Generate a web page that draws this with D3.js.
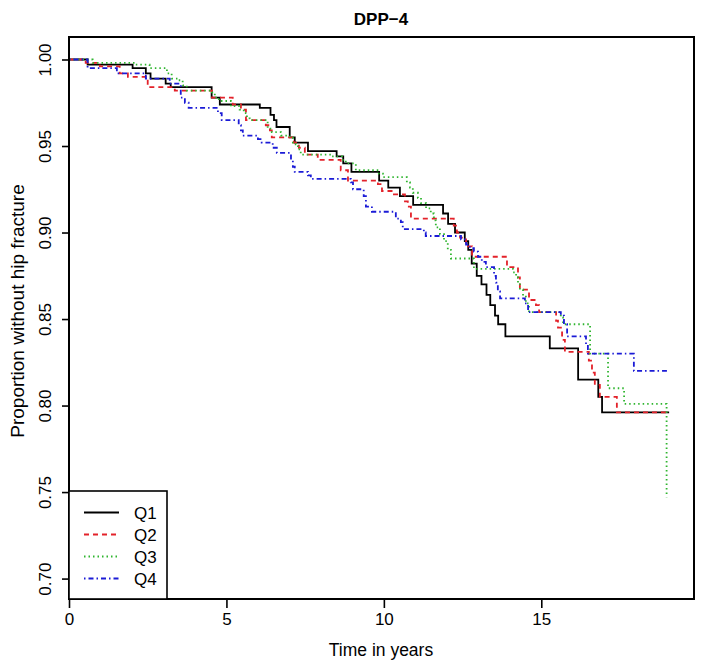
<!DOCTYPE html>
<html>
<head>
<meta charset="utf-8">
<script src="https://cdn.jsdelivr.net/npm/d3@7"></script>
<style>
  html, body { margin: 0; padding: 0; background: #ffffff; }
  svg { display: block; font-family: "Liberation Sans", Arial, Helvetica, sans-serif; }
</style>
</head>
<body>
<svg id="chart" width="704" height="669"></svg>
<script>
// ---- data (time in years, proportion without hip fracture) ----
const seriesNames = ["Q1", "Q2", "Q3", "Q4"];

const q1Time = [0, 0.59, 2.02, 2.44, 2.59, 3.07, 3.23, 4.53, 4.79, 6.06, 6.40, 6.51, 6.59, 7.01, 7.17, 7.59, 8.50, 8.71, 8.97, 9.85, 10.14, 10.51, 10.93, 11.88, 12.04, 12.26, 12.57, 12.68, 12.79, 12.95, 13.10, 13.26, 13.38, 13.53, 13.63, 13.86, 15.27, 16.17, 16.81, 16.93, 19.06];
const q1Surv = [1.000, 0.997, 0.995, 0.992, 0.989, 0.986, 0.984, 0.978, 0.974, 0.972, 0.968, 0.965, 0.961, 0.955, 0.952, 0.947, 0.944, 0.940, 0.935, 0.930, 0.926, 0.921, 0.916, 0.911, 0.905, 0.900, 0.895, 0.890, 0.882, 0.875, 0.870, 0.864, 0.858, 0.852, 0.847, 0.840, 0.833, 0.815, 0.805, 0.796, 0.796];

const q2Time = [0, 0.53, 0.98, 1.61, 1.87, 2.50, 3.36, 4.54, 5.20, 5.46, 5.62, 6.25, 6.38, 6.44, 7.14, 7.30, 7.49, 7.90, 8.63, 8.86, 9.81, 9.94, 10.29, 10.67, 10.76, 10.86, 12.22, 12.32, 12.42, 12.61, 12.80, 13.91, 14.26, 14.32, 14.61, 14.83, 14.93, 15.47, 15.53, 15.66, 15.75, 16.51, 16.61, 16.70, 16.86, 17.40, 19.06];
const q2Surv = [1.000, 0.998, 0.996, 0.992, 0.990, 0.984, 0.982, 0.978, 0.974, 0.971, 0.965, 0.962, 0.959, 0.955, 0.952, 0.949, 0.945, 0.942, 0.936, 0.930, 0.928, 0.924, 0.922, 0.918, 0.915, 0.908, 0.904, 0.900, 0.897, 0.892, 0.886, 0.880, 0.874, 0.867, 0.861, 0.858, 0.854, 0.849, 0.845, 0.838, 0.831, 0.826, 0.819, 0.812, 0.805, 0.796, 0.796];

const q3Time = [0, 0.75, 2.09, 2.56, 3.11, 3.26, 3.45, 3.61, 3.74, 4.54, 4.63, 4.76, 5.14, 5.42, 5.55, 5.65, 5.74, 6.31, 6.44, 6.73, 7.01, 7.11, 7.20, 7.27, 7.36, 8.32, 8.67, 8.79, 9.11, 9.84, 9.97, 10.73, 10.83, 10.92, 11.08, 11.18, 11.34, 11.49, 11.59, 11.65, 11.78, 11.91, 12.03, 12.13, 12.86, 14.10, 14.20, 14.26, 14.32, 14.42, 14.51, 14.61, 15.62, 15.69, 16.55, 17.12, 17.63, 18.98];
const q3Surv = [1.000, 0.998, 0.997, 0.995, 0.992, 0.989, 0.988, 0.985, 0.982, 0.981, 0.978, 0.976, 0.973, 0.971, 0.969, 0.966, 0.965, 0.960, 0.958, 0.956, 0.955, 0.952, 0.951, 0.948, 0.945, 0.944, 0.942, 0.940, 0.936, 0.934, 0.932, 0.929, 0.926, 0.923, 0.920, 0.917, 0.914, 0.911, 0.907, 0.903, 0.899, 0.895, 0.890, 0.885, 0.879, 0.877, 0.874, 0.871, 0.867, 0.863, 0.859, 0.854, 0.851, 0.847, 0.830, 0.810, 0.801, 0.747];

const q4Time = [0, 0.59, 1.52, 2.44, 3.20, 3.55, 3.68, 3.80, 4.73, 4.85, 5.39, 5.46, 5.52, 6.00, 6.12, 6.47, 6.60, 7.05, 7.11, 7.17, 7.59, 7.68, 8.95, 9.02, 9.36, 9.43, 9.62, 10.38, 10.54, 10.60, 11.27, 11.33, 12.45, 12.61, 12.73, 12.86, 12.99, 13.11, 13.24, 13.50, 13.56, 13.62, 13.69, 14.48, 14.58, 15.62, 15.72, 15.82, 16.42, 16.48, 17.94, 18.99];
const q4Surv = [1.000, 0.995, 0.992, 0.989, 0.986, 0.978, 0.975, 0.972, 0.969, 0.965, 0.962, 0.959, 0.956, 0.954, 0.952, 0.949, 0.946, 0.942, 0.938, 0.935, 0.933, 0.931, 0.929, 0.925, 0.921, 0.915, 0.912, 0.908, 0.906, 0.902, 0.900, 0.898, 0.896, 0.893, 0.891, 0.889, 0.886, 0.883, 0.880, 0.875, 0.871, 0.866, 0.862, 0.859, 0.854, 0.852, 0.847, 0.840, 0.835, 0.830, 0.820, 0.820];

const xTicks = [0, 5, 10, 15];
const yTicks = [0.70, 0.75, 0.80, 0.85, 0.90, 0.95, 1.00];

const titleText = "DPP\u22124";
const xLabel = "Time in years";
const yLabel = "Proportion without hip fracture";

// ---- styles ----
const seriesColors = ["#000000", "#e3222a", "#2fb52f", "#1b1bd6"];
const seriesDash = [null, "5,4", "1.5,3", "1.5,3,5,3"];
const seriesWidth = [1.8, 1.8, 1.8, 1.8];

// ---- layout ----
const pLeft = 69, pRight = 694, pTop = 37, pBottom = 599;
const svg = d3.select("#chart");
svg.append("rect").attr("width", 704).attr("height", 669).attr("fill", "#fff");

const x = d3.scaleLinear().domain([0, 19.85]).range([pLeft, pRight]);
const y = d3.scaleLinear().domain([0.6882, 1.013]).range([pBottom, pTop]);

const series = [
  { name: seriesNames[0], t: q1Time, s: q1Surv },
  { name: seriesNames[1], t: q2Time, s: q2Surv },
  { name: seriesNames[2], t: q3Time, s: q3Surv },
  { name: seriesNames[3], t: q4Time, s: q4Surv }
];

const line = d3.line()
  .x(d => x(d[0]))
  .y(d => y(d[1]))
  .curve(d3.curveStepAfter);

const plotG = svg.append("g");
series.forEach((d, i) => {
  const pts = d.t.map((t, k) => [t, d.s[k]]);
  plotG.append("path")
    .attr("d", line(pts))
    .attr("fill", "none")
    .attr("stroke", seriesColors[i])
    .attr("stroke-width", seriesWidth[i])
    .attr("stroke-dasharray", seriesDash[i])
    .attr("stroke-linejoin", "miter")
    .attr("stroke-linecap", "butt");
});

// ---- axes ----
const xAxis = d3.axisBottom(x).tickValues(xTicks).tickSize(9).tickPadding(5).tickFormat(d3.format("d"));
const gx = svg.append("g").attr("transform", `translate(0,${pBottom})`).call(xAxis);
gx.select(".domain").remove();
gx.selectAll(".tick line").attr("stroke", "#000").attr("stroke-width", 1.6);
gx.selectAll(".tick text").attr("font-size", 17).attr("fill", "#000")
  .attr("font-family", "'Liberation Sans', Arial, Helvetica, sans-serif");

const yAxis = d3.axisLeft(y).tickValues(yTicks).tickSize(7).tickFormat(d3.format(".2f"));
const gy = svg.append("g").attr("transform", `translate(${pLeft},0)`).call(yAxis);
gy.select(".domain").remove();
gy.selectAll(".tick line").attr("stroke", "#000").attr("stroke-width", 1.6);
gy.selectAll(".tick text")
  .attr("font-size", 17).attr("fill", "#000")
  .attr("font-family", "'Liberation Sans', Arial, Helvetica, sans-serif")
  .attr("x", null).attr("dy", null)
  .attr("text-anchor", "middle")
  .attr("transform", "translate(-18,0) rotate(-90)");

// ---- box ----
svg.append("rect")
  .attr("x", pLeft).attr("y", pTop)
  .attr("width", pRight - pLeft).attr("height", pBottom - pTop)
  .attr("fill", "none").attr("stroke", "#000").attr("stroke-width", 2);

// ---- legend ----
const legX = pLeft, legY = 491, legW = 167 - pLeft, legH = pBottom - legY;
const leg = svg.append("g");
leg.append("rect").attr("x", legX).attr("y", legY).attr("width", legW).attr("height", legH)
  .attr("fill", "#fff").attr("stroke", "#000").attr("stroke-width", 1.6);
series.forEach((d, i) => {
  const ly = 512.5 + i * 22;
  leg.append("line")
    .attr("x1", 84).attr("x2", 119).attr("y1", ly).attr("y2", ly)
    .attr("stroke", seriesColors[i]).attr("stroke-width", seriesWidth[i])
    .attr("stroke-dasharray", seriesDash[i]);
  leg.append("text")
    .attr("x", 134).attr("y", ly).attr("dy", "0.36em")
    .attr("font-size", 17).attr("fill", "#000")
    .text(d.name);
});

// ---- titles ----
svg.append("text")
  .attr("x", 381).attr("y", 25)
  .attr("text-anchor", "middle").attr("font-size", 17).attr("font-weight", "bold")
  .text(titleText);

svg.append("text")
  .attr("x", 381).attr("y", 656)
  .attr("text-anchor", "middle").attr("font-size", 17.5)
  .text(xLabel);

svg.append("text")
  .attr("transform", `translate(24,311) rotate(-90)`)
  .attr("text-anchor", "middle").attr("font-size", 19)
  .text(yLabel);
</script>
</body>
</html>
